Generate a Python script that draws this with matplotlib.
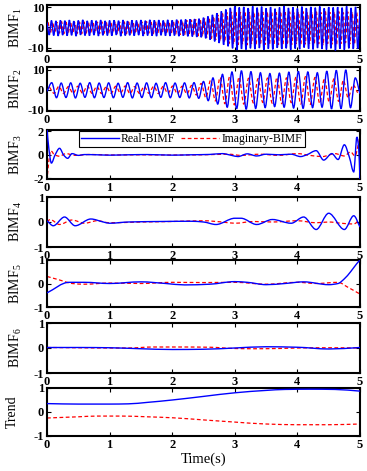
import numpy as np
import matplotlib
matplotlib.use("Agg")
import matplotlib.pyplot as plt
from matplotlib.path import Path
from matplotlib.patches import PathPatch
from matplotlib.lines import Line2D

plt.rcParams['font.family'] = ['Liberation Serif', 'DejaVu Serif']
plt.rcParams['mathtext.fontset'] = 'custom'
plt.rcParams['mathtext.rm'] = 'Liberation Serif'
plt.rcParams['mathtext.it'] = 'Liberation Serif:italic'

T_END = 5.0

# ---- BIMF1: successive extrema of the real and imaginary parts ----
bimf1_real = [
    2.5, -3.6, 3.4, -3.9, 3.2, -4.1, 3.5, -3.7, 3.3, -4.0,
    3.6, -3.8, 3.1, -4.2, 3.4, -3.6, 3.7, -3.9, 3.2, -4.0,
    3.5, -3.7, 3.3, -4.1, 3.6, -3.8, 3.2, -3.9, 3.4, -4.0,
    3.5, -3.6, 3.3, -4.2, 3.6, -3.9, 3.1, -3.8, 3.5, -4.0,
    3.4, -3.7, 3.6, -4.1, 3.3, -3.9, 3.7, -4.0, 3.5, -4.2,
    3.6, -3.8, 3.4, -4.0, 3.7, -4.1, 3.5, -3.9, 3.8, -4.2,
    3.8, -4.0, 3.9, -4.3, 4.0, -4.4, 4.1, -4.6, 4.3, -4.8,
    4.8, -5.3, 5.4, -6.0, 6.2, -6.8, 7.0, -7.6, 7.9, -8.5,
    8.8, -9.2, 9.6, -10.2, 10.3, -11.0, 9.8, -10.5, 10.1, -10.8,
    9.5, -10.2, 10.4, -10.6, 9.7, -10.1, 10.2, -10.9, 9.4, -10.4,
    10.0, -10.7, 9.2, -10.0, 9.8, -10.5, 10.5, -10.2, 9.6, -10.9,
    9.9, -10.3, 9.3, -10.6, 10.2, -9.8, 9.5, -10.4, 10.1, -10.7,
    9.7, -10.1, 10.3, -10.5, 9.4, -10.8, 10.0, -10.2, 9.8, -11.2,
    10.0, -10.4, 9.7, -10.9, 10.4, -10.2, 9.6, -10.5, 10.1, -10.3,
    8.5,
]
bimf1_imag = [
    2.6, -2.9, 2.7, -3.0, 2.5, -2.8, 2.9, -3.1, 2.6, -2.7,
    2.8, -3.0, 2.5, -2.9, 2.7, -3.1, 2.8, -2.8, 2.6, -3.0,
    2.9, -2.7, 2.6, -3.0, 2.8, -2.9, 2.5, -3.1, 2.7, -2.8,
    2.9, -3.0, 2.6, -2.8, 2.8, -3.1, 2.7, -2.9, 2.6, -3.0,
    2.8, -2.9, 2.7, -3.0, 2.9, -2.8, 2.6, -3.1, 2.8, -2.9,
    2.8, -2.9, 3.0, -3.1, 2.9, -3.2, 3.0, -3.3, 3.2, -3.5,
    3.3, -3.6, 3.5, -3.8, 3.7, -4.0, 3.9, -4.2, 4.0, -4.4,
    4.3, -4.8, 4.9, -5.4, 5.5, -6.0, 6.1, -6.6, 6.8, -7.2,
    7.3, -7.8, 7.6, -8.2,
    7.8, -8.4, 7.5, -8.1, 7.9, -8.6, 7.4, -8.0, 7.7, -8.3,
    7.2, -7.9, 7.6, -8.4, 7.8, -8.2, 7.3, -8.0, 7.5, -8.5,
    7.9, -8.1, 7.4, -7.8, 7.7, -8.3, 7.2, -8.0, 7.6, -8.4,
    7.8, -8.2, 7.3, -7.9, 7.5, -8.3, 7.7, -8.1, 7.4, -8.6,
    7.9, -8.0, 7.5, -8.2, 7.6, -8.4, 7.8, -7.9, 7.3, -7.6,
    7.7, -8.1, 7.5, -8.3, 7.4, -7.8,
]

# ---- BIMF2: successive extrema ----
bimf2_real = [
    -0.8, 3.6, -4.0, 3.4, -3.9, 3.5, -4.1, 3.3, -3.8, 3.6,
    -4.0, 3.4, -3.9, 3.5, -4.0, 3.3, -3.8, 3.6, -4.1, 3.4,
    -3.9, 3.5, -4.0, 3.3, -3.8, 3.6, -4.0, 3.4, -3.9, 3.5,
    -4.1, 3.6, -4.3, 4.2, -5.5, 6.0, -7.2, 7.8, -8.8, 9.0,
    -9.5, 9.6, -9.8, 9.2, -9.4, 8.6, -9.0, 8.2, -8.5, 8.4,
    -8.8, 8.9, -9.2, 9.3, -9.4, 9.0, -9.0, 8.6, -8.8, 9.4,
    -9.6, 9.8, -9.5, 10.0, -9.0, 6.0, -2.0,
]
bimf2_imag = [
    1.4, -1.8, 1.7, -1.9, 1.6, -1.8, 1.8, -1.7, 1.9, -1.8,
    1.7, -1.9, 1.6, -1.8, 1.8, -1.7, 1.9, -1.9, 1.6, -1.8,
    1.7, -1.8, 1.8, -1.9, 1.7, -1.8, 1.9, -2.0, 1.8, -2.1,
    2.2, -2.6, 3.2, -4.0, 4.8, -5.6, 6.2, -7.0, 6.6, -7.6,
    6.4, -7.2, 5.8, -6.6, 5.6, -6.4, 5.9, -6.8, 6.2, -7.0,
    6.0, -6.5, 6.4, -7.2, 6.6, -7.4, 6.2, -6.8, 5.8, -6.2,
    5.5, -5.8, 4.8, -4.0, 2.5, -1.5,
]

# ---- BIMF3 ----
bimf3_real_t = [0, 0.03, 0.07, 0.13, 0.2, 0.27, 0.33, 0.4, 0.5, 0.6, 0.8, 1.0, 1.3, 1.6, 2.0,
                2.3, 2.6, 2.8, 2.95, 3.05, 3.2, 3.35, 3.5, 3.7, 3.9, 4.05, 4.15, 4.3, 4.42,
                4.55, 4.65, 4.75, 4.83, 4.9, 4.95, 4.98, 5.0]
bimf3_real_v = [2.2, 0.5, -0.7, 0.0, 0.55, -0.05, -0.3, 0.1, -0.05, 0.02, 0.0, -0.03, 0.0, 0.02, -0.03,
                0.0, 0.03, 0.1, -0.05, -0.15, 0.08, -0.1, 0.05, 0.0, 0.05, -0.15, 0.0, 0.35, -0.45,
                0.1, -0.4, 0.85, -0.2, -1.45, 1.5, 0.5, -2.2]
bimf3_imag_t = [0, 0.03, 0.06, 0.12, 0.2, 0.3, 0.45, 0.7, 1.0, 1.5, 2.0, 2.5, 2.9, 3.1, 3.4, 3.7,
                4.0, 4.2, 4.4, 4.6, 4.75, 4.85, 4.92, 4.97, 5.0]
bimf3_imag_v = [-2.2, -0.5, 0.35, 0.0, -0.12, 0.1, -0.05, 0.03, -0.02, 0.0, -0.02, 0.0, 0.05, -0.05,
                0.05, -0.05, 0.1, -0.05, -0.15, 0.1, -0.1, 0.25, -0.1, 0.8, 1.6]

# ---- BIMF4 ----
bimf4_real_t = [0, 0.1, 0.28, 0.45, 0.7, 0.9, 1.0, 1.3, 1.8, 2.3, 2.5, 2.7, 3.0, 3.1, 3.35, 3.6,
                3.9, 4.1, 4.3, 4.5, 4.75, 4.9, 5.0]
bimf4_real_v = [0.05, -0.15, 0.2, -0.15, 0.12, 0.0, -0.05, 0.0, 0.02, 0.03, 0.0, -0.1, 0.15, 0.15,
                -0.1, 0.1, -0.05, 0.2, -0.3, 0.35, -0.3, 0.25, -0.2]
bimf4_imag_t = [0, 0.05, 0.2, 0.4, 0.6, 0.8, 1.0, 1.5, 2.0, 2.5, 2.8, 3.0, 3.3, 3.6, 4.0, 4.3, 4.5,
                4.7, 4.9, 5.0]
bimf4_imag_v = [0.0, 0.1, -0.1, 0.08, -0.05, 0.05, -0.03, 0.0, 0.02, 0.05, 0.0, -0.05, 0.02, 0.0,
                0.05, -0.03, 0.0, -0.05, -0.08, 0.12]

# ---- BIMF5 ----
bimf5_real_t = [0, 0.35, 0.6, 1.0, 1.5, 1.9, 2.2, 2.6, 3.0, 3.2, 3.5, 3.8, 4.1, 4.5, 4.65, 4.75,
                4.85, 4.95, 5.0]
bimf5_real_v = [-0.4, 0.05, 0.05, 0.0, 0.07, 0.0, -0.06, -0.03, 0.08, 0.05, -0.05, 0.0, 0.07, -0.05,
                0.0, 0.2, 0.5, 0.85, 1.0]
bimf5_imag_t = [0, 0.2, 0.4, 0.6, 1.0, 1.5, 2.0, 2.5, 3.0, 3.5, 4.0, 4.3, 4.65, 4.8, 5.0]
bimf5_imag_v = [0.3, 0.15, 0.0, -0.03, 0.02, 0.0, 0.05, 0.04, 0.05, -0.03, 0.05, 0.0, 0.05, -0.15, -0.45]

# ---- BIMF6 ----
bimf6_real_t = [0, 0.5, 1.0, 1.5, 2.0, 2.5, 3.0, 3.5, 4.0, 4.5, 5.0]
bimf6_real_v = [0.02, 0.02, 0.01, -0.03, -0.06, -0.05, 0.0, 0.05, 0.03, -0.04, 0.02]
bimf6_imag_t = [0, 0.5, 1.0, 1.3, 1.7, 2.2, 2.6, 3.0, 3.3, 3.7, 4.0, 4.5, 5.0]
bimf6_imag_v = [0.02, 0.01, 0.0, 0.0, 0.04, 0.04, 0.03, -0.02, -0.03, -0.02, 0.0, 0.01, 0.0]

# ---- Trend ----
trend_real_t = [0, 0.5, 1.0, 1.3, 1.6, 2.0, 2.5, 3.0, 3.5, 3.8, 4.2, 4.6, 5.0]
trend_real_v = [0.35, 0.33, 0.33, 0.34, 0.4, 0.5, 0.65, 0.8, 0.9, 0.94, 0.95, 0.94, 0.87]
trend_imag_t = [0, 0.5, 0.8, 1.2, 1.6, 2.0, 2.5, 3.0, 3.5, 4.0, 4.5, 5.0]
trend_imag_v = [-0.25, -0.2, -0.17, -0.17, -0.2, -0.24, -0.33, -0.42, -0.5, -0.53, -0.53, -0.5]

ylabels = ['BIMF$_1$', 'BIMF$_2$', 'BIMF$_3$', 'BIMF$_4$', 'BIMF$_5$', 'BIMF$_6$', 'Trend']
ylims = [(-11.5, 11.0), (-10.7, 11.5), (-2.05, 2.1), (-1, 1), (-1, 1), (-1, 1), (-1, 1)]
yticks = [[-10, 0, 10], [-10, 0, 10], [-2, 0, 2], [-1, 0, 1], [-1, 0, 1], [-1, 0, 1], [-1, 0, 1]]
xticks = [0, 1, 2, 3, 4, 5]
legend_labels = ['Real-BIMF', 'Imaginary-BIMF']

REAL_COLOR = '#0000ff'
IMAG_COLOR = '#ff0000'
DASH = (0, (3, 2))


def ext_times(n):
    return np.linspace(0, T_END, n)


def mid_times(n_ref):
    t = np.linspace(0, T_END, n_ref)
    return (t[:-1] + t[1:]) / 2


def smooth_path(t, v):
    """Cubic Bezier path through the data points (monotone-Hermite tangents)."""
    t = np.asarray(t, float)
    v = np.asarray(v, float)
    h = np.diff(t)
    d = np.diff(v) / h
    m = np.zeros_like(v)
    m[0], m[-1] = d[0], d[-1]
    for k in range(1, len(v) - 1):
        if d[k - 1] * d[k] > 0:
            w1 = 2 * h[k] + h[k - 1]
            w2 = h[k] + 2 * h[k - 1]
            m[k] = (w1 + w2) / (w1 / d[k - 1] + w2 / d[k])
    verts = [(t[0], v[0])]
    codes = [Path.MOVETO]
    for k in range(len(v) - 1):
        verts.append((t[k] + h[k] / 3, v[k] + m[k] * h[k] / 3))
        verts.append((t[k + 1] - h[k] / 3, v[k + 1] - m[k + 1] * h[k] / 3))
        verts.append((t[k + 1], v[k + 1]))
        codes += [Path.CURVE4] * 3
    return Path(verts, codes)


series = [
    (ext_times(len(bimf1_real)), bimf1_real, mid_times(len(bimf1_real)), bimf1_imag),
    (ext_times(len(bimf2_real)), bimf2_real, mid_times(len(bimf2_real)), bimf2_imag),
    (bimf3_real_t, bimf3_real_v, bimf3_imag_t, bimf3_imag_v),
    (bimf4_real_t, bimf4_real_v, bimf4_imag_t, bimf4_imag_v),
    (bimf5_real_t, bimf5_real_v, bimf5_imag_t, bimf5_imag_v),
    (bimf6_real_t, bimf6_real_v, bimf6_imag_t, bimf6_imag_v),
    (trend_real_t, trend_real_v, trend_imag_t, trend_imag_v),
]

W, H = 367, 471
fig = plt.figure(figsize=(W / 100, H / 100), dpi=100)
rows_px = [(5, 51), (67, 111), (130, 179), (197, 247), (260, 307), (323, 373), (388, 436)]
left_px, right_px = 47, 360

for i, ((tr, vr, ti, vi), (top, bot)) in enumerate(zip(series, rows_px)):
    ax = fig.add_axes([left_px / W, 1 - bot / H, (right_px - left_px) / W, (bot - top) / H])
    ax.add_patch(PathPatch(smooth_path(ti, vi), fill=False, edgecolor=IMAG_COLOR,
                           lw=0.9, ls=DASH, zorder=2))
    ax.add_patch(PathPatch(smooth_path(tr, vr), fill=False, edgecolor=REAL_COLOR,
                           lw=1.0, zorder=3))
    ax.set_xlim(0, 5)
    ax.set_ylim(*ylims[i])
    ax.set_xticks(xticks)
    ax.set_yticks(yticks[i])
    ax.set_xticklabels([str(x) for x in xticks], fontweight='bold')
    ax.set_yticklabels([str(y) for y in yticks[i]], fontweight='bold')
    ax.tick_params(direction='in', top=True, right=True, length=3, width=0.8,
                   labelsize=9, pad=2, colors='black')
    for s in ax.spines.values():
        s.set_linewidth(1.5)
    ax.set_ylabel(ylabels[i], fontsize=10)
    ax.yaxis.set_label_coords(-0.09 if i == 6 else -0.075, 0.5)
    if i == 2:
        handles = [Line2D([], [], color=REAL_COLOR, lw=1.0),
                   Line2D([], [], color=IMAG_COLOR, lw=0.9, ls=DASH)]
        leg = ax.legend(handles, legend_labels, loc='upper center', bbox_to_anchor=(0.462, 1.0),
                        ncol=2, fontsize=8.5, frameon=True, fancybox=False, edgecolor='black',
                        framealpha=1, borderpad=0.2, handlelength=3.2, handletextpad=0.2,
                        columnspacing=0.5, borderaxespad=0.05)
        leg.get_frame().set_linewidth(0.8)
        leg.set_zorder(5)
    if i == 6:
        ax.set_xlabel('Time(s)', fontsize=10.5, labelpad=1)

fig.savefig('out.png', dpi=100)
